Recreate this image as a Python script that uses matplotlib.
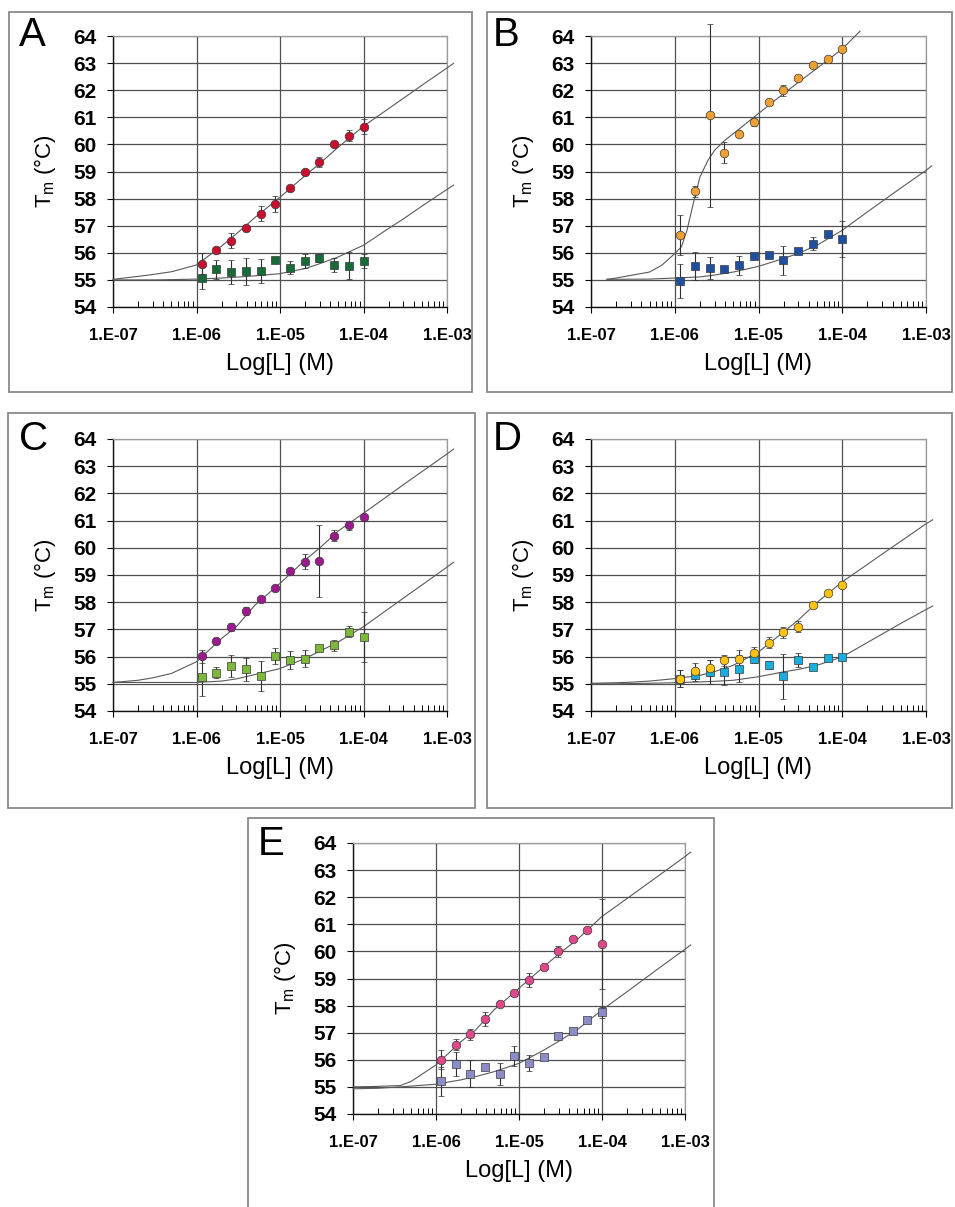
import matplotlib
matplotlib.use("Agg")
import matplotlib.pyplot as plt
from matplotlib.patches import Rectangle
from matplotlib.ticker import FixedLocator, FixedFormatter, LogLocator, NullFormatter

plt.rcParams['font.family'] = ['Liberation Sans', 'DejaVu Sans']
plt.rcParams['mathtext.default'] = 'regular'

# ligand concentrations (M), same for every panel
conc = [1.16e-6, 1.73e-6, 2.6e-6, 3.9e-6, 5.85e-6, 8.78e-6,
        1.32e-5, 1.98e-5, 2.96e-5, 4.44e-5, 6.67e-5, 1.0e-4]
x_ticks = [1e-7, 1e-6, 1e-5, 1e-4, 1e-3]
x_labels = ['1.E-07', '1.E-06', '1.E-05', '1.E-04', '1.E-03']
y_ticks = list(range(54, 65))

# fitted curves
fit_x = [1e-7, 2e-7, 3e-7, 5e-7, 1e-6, 2e-6, 3e-6, 5e-6, 1e-5, 2e-5, 3e-5, 5e-5,
         1e-4, 2e-4, 3e-4, 5e-4, 1e-3, 1.2e-3]

# A
a_circ = [55.6, 56.12, 56.44, 56.92, 57.44, 57.81, 58.4, 58.98, 59.36, 60.0, 60.32, 60.66]
a_circ_err = [0.4, 0.1, 0.28, 0.1, 0.28, 0.29, 0.1, 0.1, 0.18, 0.05, 0.2, 0.28]
a_sq = [55.07, 55.4, 55.29, 55.32, 55.33, 55.74, 55.45, 55.7, 55.82, 55.54, 55.53, 55.7]
a_sq_err = [0.4, 0.35, 0.45, 0.5, 0.45, 0.1, 0.25, 0.25, 0.15, 0.25, 0.5, 0.25]
a_fit_hi = [55.02, 55.13, 55.2, 55.3, 55.55, 56.25, 56.7, 57.3, 58.05, 58.85, 59.3, 59.9,
            60.67, 61.32, 61.7, 62.18, 62.82, 62.99]
a_fit_lo = [55.0, 55.0, 55.0, 55.01, 55.03, 55.07, 55.1, 55.15, 55.23, 55.42, 55.6, 55.85,
            56.28, 56.9, 57.25, 57.72, 58.34, 58.5]

# B
b_circ = [56.67, 58.27, 61.08, 59.7, 60.37, 60.81, 61.55, 62.0, 62.46, 62.93, 63.14, 63.51]
b_circ_err = [0.74, 0.2, 3.38, 0.38, 0.1, 0.12, 0.05, 0.2, 0.08, 0.1, 0.12, 0.05]
b_sq = [54.95, 55.5, 55.44, 55.39, 55.54, 55.87, 55.91, 55.72, 56.07, 56.34, 56.71, 56.5]
b_sq_err = [0.62, 0.52, 0.4, 0.1, 0.36, 0.1, 0.05, 0.54, 0.08, 0.25, 0.1, 0.67]
b_fit_hi_x = [1.55e-7, 2e-7, 5e-7, 7e-7, 1e-6, 1.2e-6, 1.4e-6, 1.7e-6, 2e-6, 2.5e-6,
              3e-6, 4e-6, 6e-6, 1e-5, 2e-5, 5e-5, 1e-4, 1.63e-4]
b_fit_hi = [55.02, 55.07, 55.29, 55.54, 55.97, 56.22, 56.83, 57.94, 58.8, 59.42,
            59.79, 60.16, 60.59, 61.14, 61.88, 62.81, 63.52, 64.18]
b_fit_lo_x = [1.55e-7, 5e-7, 1e-6, 2e-6, 3e-6, 5e-6, 1e-5, 2e-5, 3e-5, 5e-5,
              1e-4, 2e-4, 3e-4, 5e-4, 1e-3, 1.17e-3]
b_fit_lo = [55.02, 55.03, 55.07, 55.11, 55.18, 55.29, 55.5, 55.79, 55.98, 56.28,
            56.83, 57.51, 57.9, 58.39, 59.04, 59.21]

# C
c_circ = [56.01, 56.58, 57.1, 57.67, 58.1, 58.53, 59.15, 59.49, 59.5, 60.44, 60.82, 61.15]
c_circ_err = [0.25, 0.1, 0.15, 0.15, 0.05, 0.05, 0.1, 0.27, 1.32, 0.2, 0.15, 0.05]
c_sq = [55.25, 55.4, 55.65, 55.54, 55.28, 56.01, 55.87, 55.93, 56.3, 56.42, 56.91, 56.73]
c_sq_err = [0.69, 0.2, 0.4, 0.42, 0.56, 0.3, 0.32, 0.3, 0.05, 0.2, 0.2, 0.92]
c_fit_hi = [55.05, 55.13, 55.22, 55.38, 55.81, 56.67, 57.1, 57.89, 58.69, 59.55, 60.0, 60.62,
            61.27, 61.93, 62.32, 62.8, 63.45, 63.63]
c_fit_lo = [55.05, 55.05, 55.05, 55.05, 55.05, 55.1, 55.18, 55.34, 55.56, 55.93, 56.2, 56.54,
            57.1, 57.76, 58.15, 58.63, 59.29, 59.47]

# D
d_circ = [55.19, 55.47, 55.58, 55.87, 55.9, 56.15, 56.51, 56.89, 57.1, 57.89, 58.32, 58.63]
d_circ_err = [0.3, 0.3, 0.3, 0.2, 0.35, 0.2, 0.2, 0.2, 0.2, 0.1, 0.1, 0.05]
d_sq = [55.19, 55.31, 55.44, 55.44, 55.56, 55.9, 55.68, 55.28, 55.87, 55.62, 55.95, 55.99]
d_sq_err = [0.3, 0.2, 0.45, 0.5, 0.5, 0.15, 0.15, 0.83, 0.27, 0.1, 0.1, 0.05]
d_fit_hi = [55.02, 55.04, 55.06, 55.1, 55.19, 55.31, 55.45, 55.68, 56.17, 56.91, 57.35, 57.99,
            58.75, 59.39, 59.77, 60.24, 60.88, 61.03]
d_fit_lo = [55.0, 55.0, 55.01, 55.02, 55.04, 55.07, 55.09, 55.13, 55.26, 55.44, 55.53, 55.68,
            55.99, 56.52, 56.83, 57.22, 57.73, 57.86]

# E
e_circ = [56.0, 56.55, 56.94, 57.51, 58.06, 58.46, 58.95, 59.41, 60.0, 60.45, 60.79, 60.28]
e_circ_err = [0.35, 0.2, 0.2, 0.27, 0.1, 0.1, 0.25, 0.1, 0.2, 0.1, 0.05, 1.65]
e_sq = [55.2, 55.84, 55.48, 55.75, 55.47, 56.14, 55.87, 56.12, 56.86, 57.08, 57.47, 57.76]
e_sq_err = [0.55, 0.45, 0.5, 0.1, 0.4, 0.37, 0.3, 0.1, 0.05, 0.1, 0.1, 0.2]
e_fit_x = [1e-7, 2e-7, 3.7e-7, 5e-7, 1e-6, 2e-6, 3e-6, 5e-6, 1e-5, 2e-5, 3e-5, 5e-5,
           1e-4, 2e-4, 3e-4, 5e-4, 1e-3, 1.17e-3]
e_fit_hi = [55.0, 55.02, 55.05, 55.2, 55.81, 56.67, 57.1, 57.84, 58.64, 59.44, 59.9, 60.43,
            61.29, 61.95, 62.34, 62.83, 63.5, 63.66]
e_fit_lo = [54.93, 54.95, 55.0, 55.03, 55.1, 55.26, 55.38, 55.56, 55.87, 56.36, 56.68, 57.1,
            57.84, 58.51, 58.91, 59.41, 60.08, 60.24]

W, H = 955, 1207
fig = plt.figure(figsize=(W / 100, H / 100), dpi=100)


def box(l, t, r, b):
    fig.add_artist(Rectangle((l / W, 1 - b / H), (r - l) / W, (b - t) / H,
                             transform=fig.transFigure, fill=False,
                             ec='#8a8a8a', lw=1.3))


def panel(l, t, r, b, letter, lx, ly, circ, circ_err, circ_col, sq, sq_err, sq_col, curves):
    ax = fig.add_axes([l / W, 1 - b / H, (r - l) / W, (b - t) / H])
    ax.set_xscale('log')
    ax.set_xlim(1e-7, 1e-3)
    ax.set_ylim(54, 64)
    ax.set_axisbelow(True)
    ax.grid(True, which='major', color='#505050', lw=0.9)

    for cx, cy in curves:
        ax.plot(cx, cy, color='#5a5a5a', lw=0.8, clip_on=False, zorder=3)

    for y, e, m, ms, col in [(sq, sq_err, 's', 5.6, sq_col), (circ, circ_err, 'o', 6.2, circ_col)]:
        eb = ax.errorbar(conc, y, yerr=e, fmt=m, ms=ms, mfc=col, mec='#3a3a3a', mew=0.5,
                         ecolor='#303030', elinewidth=0.8, capsize=2.3, capthick=0.8, zorder=4)
        for art in eb.get_children():
            art.set_clip_on(False)

    ax.xaxis.set_major_locator(FixedLocator(x_ticks))
    ax.xaxis.set_major_formatter(FixedFormatter(x_labels))
    ax.xaxis.set_minor_locator(LogLocator(base=10, subs=range(2, 10)))
    ax.xaxis.set_minor_formatter(NullFormatter())
    ax.set_yticks(y_ticks)
    ax.tick_params(axis='x', which='major', direction='out', length=4, width=0.8, pad=11, labelsize=12)
    ax.tick_params(axis='x', which='minor', direction='in', length=4, width=0.7)
    ax.tick_params(axis='y', which='major', direction='out', length=4, width=0.8, pad=8, labelsize=15)
    plt.setp(ax.get_xticklabels() + ax.get_yticklabels(), fontweight='bold')

    for s in ['left', 'bottom']:
        ax.spines[s].set_color('#111111')
        ax.spines[s].set_linewidth(1.0)
    for s in ['top', 'right']:
        ax.spines[s].set_color('#9a9a9a')
        ax.spines[s].set_linewidth(0.9)

    ax.set_xlabel('Log[L] (M)', fontsize=17)
    ax.xaxis.set_label_coords(0.5, -0.17)
    ax.set_ylabel('T$_{m}$ (°C)', fontsize=16)
    ax.yaxis.set_label_coords(-0.165, 0.5)
    fig.text(lx / W, 1 - ly / H, letter, fontsize=29, ha='left', va='top')
    return ax


box(9, 12, 472, 392)
box(487, 12, 952, 392)
box(8, 413, 475, 808)
box(487, 413, 952, 808)
box(248, 818, 714, 1212)

panel(113, 36, 447, 307, 'A', 19, 16, a_circ, a_circ_err, '#c8102e', a_sq, a_sq_err, '#176b38',
      [(fit_x, a_fit_hi), (fit_x, a_fit_lo)])
panel(591, 36, 926, 307, 'B', 493, 16, b_circ, b_circ_err, '#f0a030', b_sq, b_sq_err, '#1f4fa0',
      [(b_fit_hi_x, b_fit_hi), (b_fit_lo_x, b_fit_lo)])
panel(113, 439, 447, 711, 'C', 19, 420, c_circ, c_circ_err, '#9b1b8e', c_sq, c_sq_err, '#7db83a',
      [(fit_x, c_fit_hi), (fit_x, c_fit_lo)])
panel(591, 439, 926, 711, 'D', 493, 420, d_circ, d_circ_err, '#ffc20e', d_sq, d_sq_err, '#1aaee0',
      [(fit_x, d_fit_hi), (fit_x, d_fit_lo)])
panel(353, 843, 685, 1114, 'E', 258, 825, e_circ, e_circ_err, '#e0488c', e_sq, e_sq_err, '#8c8cc8',
      [(e_fit_x, e_fit_hi), (e_fit_x, e_fit_lo)])

fig.savefig('out.png', dpi=100)
